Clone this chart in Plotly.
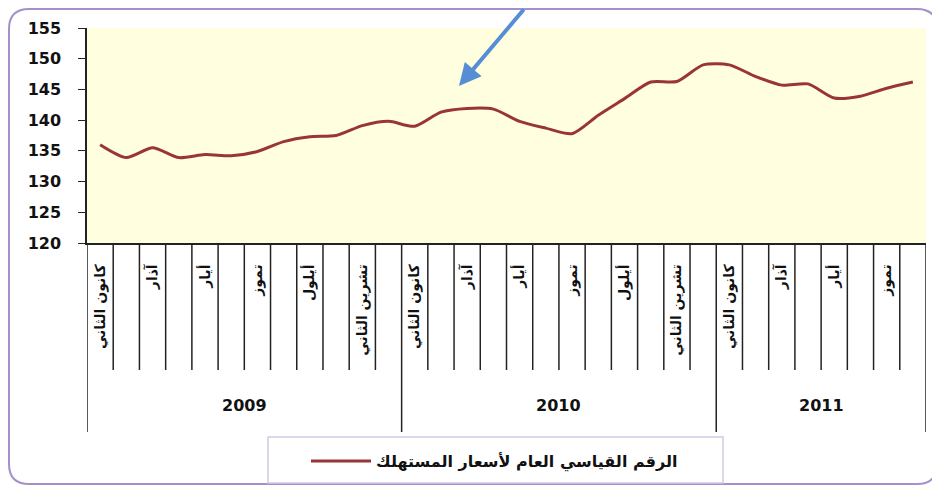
import plotly.graph_objects as go

# ---- data ----
months = ["كانون الثاني", "شباط", "آذار", "نيسان", "أيار", "حزيران",
          "تموز", "آب", "أيلول", "تشرين الأول", "تشرين الثاني", "كانون الأول"]
years = ["2009", "2010", "2011"]
months_per_year = [12, 12, 8]
cpi = [136.0, 133.9, 135.5, 133.9, 134.4, 134.2, 134.9, 136.5, 137.3, 137.5, 139.1, 139.8,
       139.0, 141.3, 141.9, 141.8, 139.8, 138.7, 137.8, 140.8, 143.5, 146.2, 146.3, 149.0,
       149.0, 147.1, 145.7, 145.9, 143.6, 143.9, 145.2, 146.2]
series_name = "الرقم القياسي العام لأسعار المستهلك"

# category labels
cat_labels = []
for n in months_per_year:
    cat_labels += months[:n]
x_idx = list(range(len(cpi)))
tick_vals = [i for i in x_idx if i % 2 == 0]
tick_text = [cat_labels[i] for i in tick_vals]

OFF = 8  # page body margin
W, H = 940 - OFF, 486 - OFF
# plot area in page pixels: x 87..926, y 28..243
PL, PR, PT, PB = 87, 926, 28, 243
L, T = PL - OFF, PT - OFF
R, B = W - (PR - OFF), H - (PB - OFF)
PW, PH = PR - PL, PB - PT


def px(xp):  # page pixel -> paper
    return (xp - PL) / PW


def py(yp):
    return (PB - yp) / PH


fig = go.Figure()
fig.add_trace(go.Scatter(
    x=x_idx, y=cpi, mode="lines", name=series_name,
    line=dict(color="#993535", width=3, shape="spline", smoothing=0.7),
))

shapes = []
n = len(cpi)
year_bounds = [0]
for m in months_per_year:
    year_bounds.append(year_bounds[-1] + m)
for k in range(n + 1):
    long = k in year_bounds
    shapes.append(dict(type="line", xref="x", yref="paper",
                       x0=k - 0.5, x1=k - 0.5, y0=0, y1=py(432 if long else 370),
                       line=dict(color="#222", width=1.5)))

# outer rounded frame
x0, y0, x1, y1, r = 9, 9, 937, 484, 20
path = (f"M {px(x0)},{py(y0 + r)} Q {px(x0)},{py(y0)} {px(x0 + r)},{py(y0)} "
        f"L {px(x1 - r)},{py(y0)} Q {px(x1)},{py(y0)} {px(x1)},{py(y0 + r)} "
        f"L {px(x1)},{py(y1 - r)} Q {px(x1)},{py(y1)} {px(x1 - r)},{py(y1)} "
        f"L {px(x0 + r)},{py(y1)} Q {px(x0)},{py(y1)} {px(x0)},{py(y1 - r)} Z")
shapes.append(dict(type="path", xref="paper", yref="paper", path=path,
                   line=dict(color="#A491CC", width=2), layer="below"))
# legend frame
shapes.append(dict(type="rect", xref="paper", yref="paper",
                   x0=px(268), x1=px(723), y0=py(437), y1=py(483),
                   line=dict(color="#D2CAE6", width=1.5), fillcolor="white",
                   layer="below"))

annotations = []
for yname, a, b in zip(years, year_bounds[:-1], year_bounds[1:]):
    annotations.append(dict(x=(a + b - 1) / 2, y=py(405), xref="x", yref="paper",
                            text=yname, showarrow=False,
                            font=dict(family="DejaVu Sans", size=16, color="#111",
                                      weight="bold"),
                            xanchor="center", yanchor="middle"))
# blue arrow
annotations.append(dict(x=px(459), y=py(86), xref="paper", yref="paper",
                        ax=66, ay=-100, axref="pixel", ayref="pixel",
                        text="", showarrow=True, arrowhead=2, arrowsize=1.1,
                        arrowwidth=4, arrowcolor="#558ED5"))

fig.update_layout(
    width=W, height=H,
    margin=dict(l=L, r=R, t=T, b=B, autoexpand=False),
    paper_bgcolor="white",
    plot_bgcolor="#FFFFE0",
    showlegend=True,
    legend=dict(x=px(306), y=py(461), xanchor="left", yanchor="middle",
                orientation="h", borderwidth=0, bgcolor="rgba(0,0,0,0)",
                font=dict(family="DejaVu Sans", size=16, color="#111", weight="bold"),
                itemwidth=60),
    xaxis=dict(range=[-0.5, n - 0.5], tickmode="array", tickvals=tick_vals,
               ticktext=tick_text, tickangle=-90, ticks="", showgrid=False,
               showline=True, linecolor="#222", linewidth=1.5, zeroline=False,
               ticklabelstandoff=14,
               tickfont=dict(family="DejaVu Sans", size=14, color="#111",
                             weight="bold"),
               fixedrange=True),
    yaxis=dict(range=[120, 155], dtick=5, ticks="outside", ticklen=7,
               tickcolor="#222", showgrid=False, showline=True,
               linecolor="#222", linewidth=1.5, zeroline=False,
               ticklabelstandoff=14,
               tickfont=dict(family="DejaVu Sans", size=16, color="#111",
                             weight="bold"),
               fixedrange=True),
    shapes=shapes,
    annotations=annotations,
)

fig.write_html("out.html")
